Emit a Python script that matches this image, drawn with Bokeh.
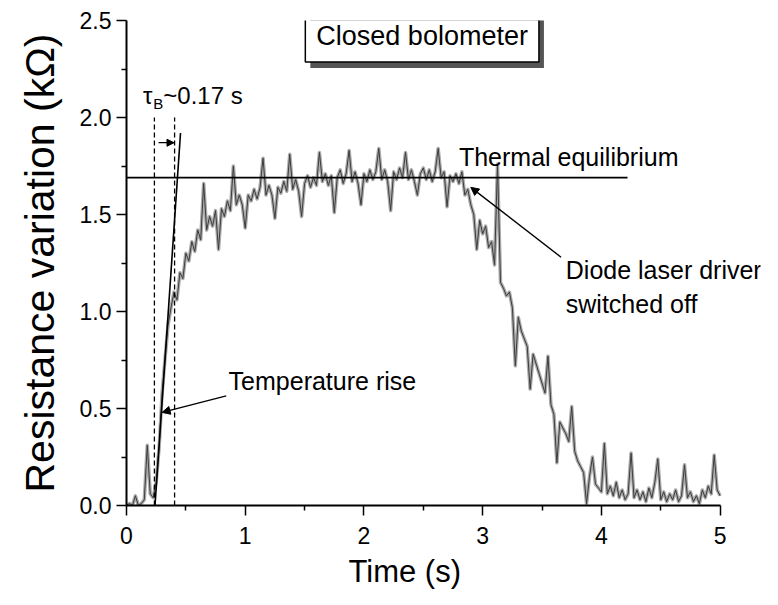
from bokeh.plotting import figure
from bokeh.models import (Range1d, FixedTicker, PrintfTickFormatter, Label, Arrow,
                          NormalHead, ColumnDataSource, Title)
from bokeh.embed import file_html
from bokeh.resources import INLINE

# ---------------- data ----------------
time_s = [
    0.000, 0.025, 0.050, 0.075, 0.100, 0.125, 0.150, 0.175, 0.200, 0.225,
    0.250, 0.275, 0.300, 0.325, 0.350, 0.375, 0.400, 0.425, 0.450, 0.475,
    0.500, 0.525, 0.550, 0.575, 0.600, 0.625, 0.650, 0.675, 0.700, 0.725,
    0.750, 0.775, 0.800, 0.825, 0.850, 0.875, 0.900, 0.925, 0.950, 0.975,
    1.000, 1.025, 1.050, 1.075, 1.100, 1.125, 1.150, 1.175, 1.200, 1.225,
    1.250, 1.275, 1.300, 1.325, 1.350, 1.375, 1.400, 1.425, 1.450, 1.475,
    1.500, 1.525, 1.550, 1.575, 1.600, 1.625, 1.650, 1.675, 1.700, 1.725,
    1.750, 1.775, 1.800, 1.825, 1.850, 1.875, 1.900, 1.925, 1.950, 1.975,
    2.000, 2.025, 2.050, 2.075, 2.100, 2.125, 2.150, 2.175, 2.200, 2.225,
    2.250, 2.275, 2.300, 2.325, 2.350, 2.375, 2.400, 2.425, 2.450, 2.475,
    2.500, 2.525, 2.550, 2.575, 2.600, 2.625, 2.650, 2.675, 2.700, 2.725,
    2.750, 2.775, 2.800, 2.825, 2.850, 2.875, 2.900, 2.925, 2.950, 2.975,
    3.000, 3.025, 3.050, 3.075, 3.100, 3.125, 3.150, 3.175, 3.200, 3.225,
    3.250, 3.275, 3.300, 3.325, 3.350, 3.375, 3.400, 3.425, 3.450, 3.475,
    3.500, 3.525, 3.550, 3.575, 3.600, 3.625, 3.650, 3.675, 3.700, 3.725,
    3.750, 3.775, 3.800, 3.825, 3.850, 3.875, 3.900, 3.925, 3.950, 3.975,
    4.000, 4.025, 4.050, 4.075, 4.100, 4.125, 4.150, 4.175, 4.200, 4.225,
    4.250, 4.275, 4.300, 4.325, 4.350, 4.375, 4.400, 4.425, 4.450, 4.475,
    4.500, 4.525, 4.550, 4.575, 4.600, 4.625, 4.650, 4.675, 4.700, 4.725,
    4.750, 4.775, 4.800, 4.825, 4.850, 4.875, 4.900, 4.925, 4.950, 4.975,
    5.000,
]
resistance_kohm = [
    0.00, 0.01, 0.00, 0.05, 0.00, 0.01, 0.03, 0.31, 0.06, 0.04,
    0.12, 0.30, 0.58, 0.76, 0.93, 1.02, 1.10, 1.06, 1.20, 1.17,
    1.30, 1.26, 1.36, 1.31, 1.42, 1.37, 1.66, 1.42, 1.49, 1.44,
    1.52, 1.32, 1.53, 1.49, 1.57, 1.52, 1.75, 1.55, 1.60, 1.55,
    1.43, 1.60, 1.57, 1.63, 1.58, 1.64, 1.79, 1.60, 1.65, 1.60,
    1.48, 1.64, 1.61, 1.67, 1.62, 1.81, 1.63, 1.68, 1.62, 1.49,
    1.66, 1.70, 1.64, 1.69, 1.65, 1.82, 1.67, 1.71, 1.65, 1.70,
    1.51, 1.69, 1.73, 1.66, 1.71, 1.83, 1.67, 1.72, 1.66, 1.55,
    1.71, 1.67, 1.73, 1.68, 1.72, 1.84, 1.68, 1.73, 1.67, 1.52,
    1.72, 1.68, 1.74, 1.69, 1.82, 1.68, 1.73, 1.67, 1.60, 1.71,
    1.74, 1.68, 1.73, 1.67, 1.72, 1.84, 1.69, 1.72, 1.54, 1.70,
    1.67, 1.71, 1.66, 1.72, 1.60, 1.63, 1.55, 1.50, 1.32, 1.47,
    1.40, 1.44, 1.33, 1.36, 1.24, 1.76, 1.15, 1.12, 1.08, 1.10,
    1.02, 0.72, 0.97, 0.90, 0.86, 0.82, 0.60, 0.78, 0.73, 0.68,
    0.63, 0.58, 0.77, 0.52, 0.47, 0.22, 0.43, 0.40, 0.37, 0.33,
    0.51, 0.28, 0.23, 0.20, 0.17, 0.01, 0.15, 0.25, 0.11, 0.09,
    0.07, 0.32, 0.06, 0.10, 0.05, 0.12, 0.04, 0.08, 0.03, 0.06,
    0.27, 0.04, 0.08, 0.03, 0.07, 0.02, 0.09, 0.04, 0.12, 0.24,
    0.03, 0.07, 0.02, 0.06, 0.03, 0.08, 0.02, 0.05, 0.21, 0.04,
    0.07, 0.02, 0.05, 0.01, 0.08, 0.04, 0.10, 0.06, 0.26, 0.08,
    0.05,
]
x_ticks = [0, 1, 2, 3, 4, 5]
x_minor = [0.5, 1.5, 2.5, 3.5, 4.5]
y_ticks = [0.0, 0.5, 1.0, 1.5, 2.0, 2.5]
y_minor = [0.25, 0.75, 1.25, 1.75, 2.25]

equilibrium_level = 1.69          # "Thermal equilibrium" line
equilibrium_x = (0.0, 4.22)
tau_lines_x = [0.235, 0.405]      # dashed markers, tau_B ~ 0.17 s
tau_lines_y = (0.0, 2.0)
rise_tangent = ((0.24, 0.0), (0.455, 1.92))

FONT = "Liberation Sans"

p = figure(frame_width=634, frame_height=485,
           x_range=Range1d(0, 5.34), y_range=Range1d(0, 2.5),
           output_backend="svg", toolbar_location=None,
           min_border_left=126, min_border_right=2,
           min_border_top=20, min_border_bottom=88)
p.grid.visible = False
p.outline_line_color = None
p.background_fill_color = "white"

# axes
for ax in (p.xaxis[0], p.yaxis[0]):
    ax.axis_line_width = 2
    ax.axis_line_color = "black"
    ax.major_tick_in = 0
    ax.major_tick_out = 10
    ax.minor_tick_in = 0
    ax.minor_tick_out = 5
    ax.major_tick_line_width = 1.5
    ax.minor_tick_line_width = 1.5
    ax.major_label_text_font = FONT
    ax.major_label_text_font_size = "23px"
    ax.major_label_text_color = "black"
    ax.axis_label_text_font = FONT
    ax.axis_label_text_font_style = "normal"
    ax.axis_label_text_color = "black"

p.xaxis.ticker = FixedTicker(ticks=x_ticks, minor_ticks=x_minor)
p.yaxis.ticker = FixedTicker(ticks=y_ticks, minor_ticks=y_minor)
p.yaxis.formatter = PrintfTickFormatter(format="%.1f")
p.xaxis.bounds = (0, 5)
p.yaxis.bounds = (0, 2.5)
p.xaxis.major_label_standoff = 11
p.yaxis.major_label_standoff = 5
p.yaxis.axis_label = "Resistance variation (kΩ)"
p.yaxis.axis_label_text_font_size = "41px"
p.yaxis.axis_label_standoff = 14

# x-axis title, placed under the axis span (0..5)
p.add_layout(Title(text="Time (s)", align="left", offset=222,
                   text_font=FONT, text_font_size="31px", text_font_style="normal",
                   text_color="black", standoff=11), "below")

# measured trace
src = ColumnDataSource(dict(t=time_s, r=resistance_kohm))
p.line("t", "r", source=src, line_color="#ababab", line_width=3.5, line_join="round")
p.line("t", "r", source=src, line_color="#3c3c3c", line_width=1.0)

# thermal equilibrium line
p.add_layout(Arrow(end=None, x_start=equilibrium_x[0], y_start=equilibrium_level,
                   x_end=equilibrium_x[1], y_end=equilibrium_level,
                   line_color="black", line_width=1.6))
# dashed tau markers
for xv in tau_lines_x:
    p.add_layout(Arrow(end=None, x_start=xv, y_start=tau_lines_y[0],
                       x_end=xv, y_end=tau_lines_y[1],
                       line_color="black", line_width=1.3, line_dash="5 3"))
# tangent (temperature rise)
p.add_layout(Arrow(end=None, x_start=rise_tangent[0][0], y_start=rise_tangent[0][1],
                   x_end=rise_tangent[1][0], y_end=rise_tangent[1][1],
                   line_color="black", line_width=1.6))
# tau small arrow
p.add_layout(Arrow(end=NormalHead(size=7, fill_color="black", line_color="black"),
                   x_start=0.27, y_start=1.87, x_end=0.40, y_end=1.87,
                   line_color="black", line_width=1.3))
# pointer arrows
p.add_layout(Arrow(end=NormalHead(size=8, fill_color="black", line_color="black"),
                   x_start=0.84, y_start=0.565, x_end=0.30, y_end=0.48,
                   line_color="black", line_width=1.4))
p.add_layout(Arrow(end=NormalHead(size=8, fill_color="black", line_color="black"),
                   x_start=3.66, y_start=1.28, x_end=2.90, y_end=1.64,
                   line_color="black", line_width=1.4))

def txt(x, y, s, size, align="left", baseline="alphabetic", **kw):
    kw.setdefault("text_color", "black")
    lab = Label(x=x, y=y, text=s, text_font=FONT, text_font_size=size,
                text_align=align, text_baseline=baseline, **kw)
    p.add_layout(lab)
    return lab

# annotations
txt(0.14, 2.115, "τ", "24px")
txt(0.225, 2.07, "B", "15px")
txt(0.31, 2.115, "~0.17 s", "24px")
txt(0.86, 0.64, "Temperature rise", "25px")
txt(2.80, 1.795, "Thermal equilibrium", "25px")
txt(3.70, 1.215, "Diode laser driver", "25px")
txt(3.70, 1.04, "switched off", "25px")

# title box with shadow
txt(2.49, 2.42, "Closed bolometer", "27px", align="center", baseline="middle",
    x_offset=5, y_offset=-6, text_color="#555555", background_fill_color="#555555",
    padding=11)
txt(2.49, 2.42, "Closed bolometer", "27px", align="center", baseline="middle",
    background_fill_color="white", border_line_color="black", border_line_width=1.5,
    padding=11)

open("out.html", "w").write(file_html(p, INLINE))
